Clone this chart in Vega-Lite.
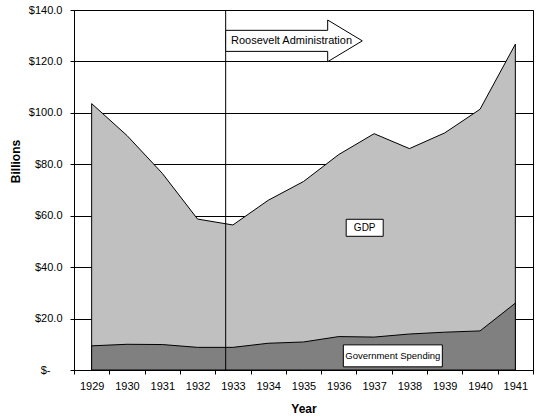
{
  "$schema": "https://vega.github.io/schema/vega-lite/v6.json",
  "description": "GDP and government spending, 1929-1941, with the Roosevelt administration marked.",
  "autosize": {"type": "none"},
  "padding": {"left": 74, "top": 10, "right": 11, "bottom": 50},
  "width": 459,
  "height": 360,
  "background": "white",
  "config": {
    "font": "Liberation Sans",
    "view": {"stroke": "black", "strokeWidth": 1},
    "scale": {"bandPaddingInner": 0, "bandPaddingOuter": 0},
    "axis": {
      "domainColor": "black",
      "tickColor": "black",
      "gridColor": "black",
      "gridOpacity": 1,
      "labelColor": "black",
      "titleColor": "black",
      "labelFont": "Liberation Sans",
      "titleFont": "Liberation Sans",
      "labelFontSize": 11,
      "titleFontSize": 12,
      "titleFontWeight": "bold",
      "tickSize": 4
    },
    "axisX": {"grid": false, "tickBand": "extent", "labelAngle": 0, "labelPadding": 6, "titlePadding": 12},
    "axisY": {
      "grid": true,
      "tickCount": 7,
      "labelExpr": "datum.value == 0 ? '$-' : '$' + format(datum.value, '.1f')",
      "titleX": -59,
      "titleY": 151,
      "titleBaseline": "middle"
    }
  },
  "datasets": {
    "economy": [
      {"year": 1929, "gdp": 103.6, "gov": 9.4},
      {"year": 1930, "gdp": 91.2, "gov": 10.0},
      {"year": 1931, "gdp": 76.5, "gov": 9.9},
      {"year": 1932, "gdp": 58.7, "gov": 8.8},
      {"year": 1933, "gdp": 56.4, "gov": 8.8},
      {"year": 1934, "gdp": 66.0, "gov": 10.4},
      {"year": 1935, "gdp": 73.3, "gov": 10.9},
      {"year": 1936, "gdp": 83.8, "gov": 13.0},
      {"year": 1937, "gdp": 91.9, "gov": 12.8},
      {"year": 1938, "gdp": 86.1, "gov": 14.0},
      {"year": 1939, "gdp": 92.2, "gov": 14.7},
      {"year": 1940, "gdp": 101.4, "gov": 15.2},
      {"year": 1941, "gdp": 126.7, "gov": 26.0}
    ]
  },
  "layer": [
    {
      "data": {"name": "economy"},
      "mark": {"type": "area", "fill": "#c0c0c0", "stroke": "black", "strokeWidth": 1},
      "encoding": {
        "x": {"field": "year", "type": "ordinal", "title": "Year", "bandPosition": 0.5, "scale": {"type": "band"}},
        "y": {
          "field": "gdp",
          "type": "quantitative",
          "title": "Billions",
          "scale": {"domain": [0, 140]},
          "axis": {"labelPadding": {"condition": {"test": "datum.value === 0", "value": 20}, "value": 8}}
        }
      }
    },
    {
      "data": {"name": "economy"},
      "mark": {"type": "area", "fill": "#808080", "stroke": "black", "strokeWidth": 1},
      "encoding": {
        "x": {"field": "year", "type": "ordinal", "title": "Year", "bandPosition": 0.5, "scale": {"type": "band"}},
        "y": {"field": "gov", "type": "quantitative", "title": "Billions"}
      }
    },
    {
      "data": {"values": [{"year": 1933}]},
      "mark": {"type": "rule", "color": "black", "strokeWidth": 1},
      "encoding": {
        "x": {"field": "year", "type": "ordinal", "title": "Year", "bandPosition": 0.296, "scale": {"type": "band"}}
      }
    },
    {
      "data": {"values": [{"year": 1935, "value": 128}]},
      "mark": {
        "type": "point",
        "shape": "M-1,-0.154L0.493,-0.154L0.493,-0.305L1,0L0.493,0.305L0.493,0.154L-1,0.154Z",
        "size": 18660,
        "filled": true,
        "fill": "white",
        "stroke": "black",
        "strokeWidth": 1,
        "opacity": 1
      },
      "encoding": {
        "x": {"field": "year", "type": "ordinal", "title": "Year", "bandPosition": 0.231, "scale": {"type": "band"}},
        "y": {"field": "value", "type": "quantitative", "title": "Billions"}
      }
    },
    {
      "data": {"values": [{"year": 1935, "value": 128, "label": "Roosevelt Administration"}]},
      "mark": {"type": "text", "fontSize": 11, "color": "black", "baseline": "middle", "align": "center"},
      "encoding": {
        "x": {"field": "year", "type": "ordinal", "title": "Year", "bandPosition": 0.16, "scale": {"type": "band"}},
        "y": {"field": "value", "type": "quantitative", "title": "Billions"},
        "text": {"field": "label"}
      }
    },
    {
      "data": {"values": [{"year": 1937, "value": 55.3}]},
      "mark": {
        "type": "point",
        "shape": "M-1,-0.46L1,-0.46L1,0.46L-1,0.46Z",
        "size": 1369,
        "filled": true,
        "fill": "white",
        "stroke": "black",
        "strokeWidth": 1,
        "opacity": 1
      },
      "encoding": {
        "x": {"field": "year", "type": "ordinal", "title": "Year", "bandPosition": 0.233, "scale": {"type": "band"}},
        "y": {"field": "value", "type": "quantitative", "title": "Billions"}
      }
    },
    {
      "data": {"values": [{"year": 1937, "value": 55.3, "label": "GDP"}]},
      "mark": {"type": "text", "fontSize": 10, "color": "black", "baseline": "middle", "align": "center"},
      "encoding": {
        "x": {"field": "year", "type": "ordinal", "title": "Year", "bandPosition": 0.233, "scale": {"type": "band"}},
        "y": {"field": "value", "type": "quantitative", "title": "Billions"},
        "text": {"field": "label"}
      }
    },
    {
      "data": {"values": [{"year": 1938, "value": 5.5}]},
      "mark": {
        "type": "point",
        "shape": "M-1,-0.222L1,-0.222L1,0.222L-1,0.222Z",
        "size": 9801,
        "filled": true,
        "fill": "white",
        "stroke": "black",
        "strokeWidth": 1,
        "opacity": 1
      },
      "encoding": {
        "x": {"field": "year", "type": "ordinal", "title": "Year", "bandPosition": 0.03, "scale": {"type": "band"}},
        "y": {"field": "value", "type": "quantitative", "title": "Billions"}
      }
    },
    {
      "data": {"values": [{"year": 1938, "value": 5.5, "label": "Government Spending"}]},
      "mark": {"type": "text", "fontSize": 9.5, "color": "black", "baseline": "middle", "align": "center"},
      "encoding": {
        "x": {"field": "year", "type": "ordinal", "title": "Year", "bandPosition": 0.03, "scale": {"type": "band"}},
        "y": {"field": "value", "type": "quantitative", "title": "Billions"},
        "text": {"field": "label"}
      }
    }
  ]
}
